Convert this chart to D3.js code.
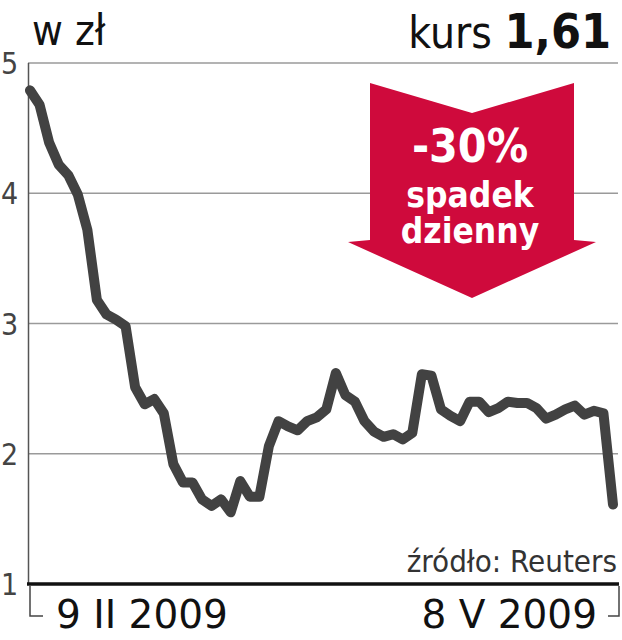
<!DOCTYPE html>
<html>
<head>
<meta charset="utf-8">
<script src="https://cdn.jsdelivr.net/npm/d3@7"></script>
<style>
  body { margin: 0; background: #fff; }
  svg { display: block; }
  .cond { font-family: "DejaVu Sans Condensed", "DejaVu Sans", sans-serif; font-stretch: condensed; }
</style>
</head>
<body>
<script>
// kurs akcji, 9 II 2009 - 8 V 2009 (sesje), w zł
var prices = [4.79, 4.68, 4.39, 4.22, 4.14, 3.99, 3.72, 3.18, 3.07, 3.03,
              2.98, 2.51, 2.38, 2.42, 2.31, 1.92, 1.78, 1.78, 1.65, 1.60,
              1.65, 1.55, 1.79, 1.67, 1.67, 2.06, 2.25, 2.21, 2.18, 2.25,
              2.28, 2.34, 2.62, 2.45, 2.40, 2.25, 2.17, 2.13, 2.15, 2.11,
              2.16, 2.61, 2.60, 2.34, 2.29, 2.25, 2.40, 2.40, 2.32, 2.35,
              2.40, 2.39, 2.39, 2.35, 2.27, 2.30, 2.34, 2.37, 2.30, 2.33,
              2.31, 1.61];
var yTicks = [1, 2, 3, 4, 5];
var dateLabels = ["9 II 2009", "8 V 2009"];
var lastPrice = "1,61";
var dropLabel = ["-30%", "spadek", "dzienny"];

var width = 622,
    height = 640;

var x = d3.scaleLinear()
    .domain([0, prices.length - 1])
    .range([30, 613]);

var y = d3.scaleLinear()
    .domain([1, 5])
    .range([584, 63]);

var svg = d3.select("body").append("svg")
    .attr("width", width)
    .attr("height", height);

// gridlines
svg.selectAll("line.grid")
    .data(yTicks.slice(1))
  .enter().append("line")
    .attr("class", "grid")
    .attr("x1", 28).attr("x2", 618)
    .attr("y1", function(d) { return y(d); })
    .attr("y2", function(d) { return y(d); })
    .attr("stroke", "#9a9a9a")
    .attr("stroke-width", 1.5);

// left axis line
svg.append("line")
    .attr("x1", 28.5).attr("x2", 28.5)
    .attr("y1", y(5)).attr("y2", y(1))
    .attr("stroke", "#555")
    .attr("stroke-width", 1.5);

// y labels
svg.selectAll("text.ylab")
    .data(yTicks)
  .enter().append("text")
    .attr("class", "ylab cond")
    .attr("x", 1)
    .attr("y", function(d) { return y(d) + 11; })
    .attr("font-size", 30)
    .attr("font-weight", 200)
    .attr("fill", "#444")
    .text(function(d) { return d; });

// red arrow with text
var ax = 472, atop = 83;
var arrow = [[ax - 102, atop], [ax, atop + 30], [ax + 102, atop], [ax + 102, atop + 157],
             [ax + 124, atop + 159], [ax, atop + 215], [ax - 124, atop + 159], [ax - 102, atop + 157]];
svg.append("path")
    .attr("d", d3.line()(arrow) + "Z")
    .attr("fill", "#cf0a3c");

svg.selectAll("text.drop")
    .data(dropLabel)
  .enter().append("text")
    .attr("class", "drop cond")
    .attr("x", ax - 2)
    .attr("y", function(d, i) { return [162, 207, 243][i]; })
    .attr("text-anchor", "middle")
    .attr("font-size", function(d, i) { return i === 0 ? 46 : 35; })
    .attr("font-weight", "bold")
    .attr("fill", "#fff")
    .text(function(d) { return d; });

// price line
var line = d3.line()
    .x(function(d, i) { return x(i); })
    .y(function(d) { return y(d); });

svg.append("path")
    .datum(prices)
    .attr("d", line)
    .attr("fill", "none")
    .attr("stroke", "#424242")
    .attr("stroke-width", 10)
    .attr("stroke-linejoin", "round")
    .attr("stroke-linecap", "round");

// bottom axis
svg.append("line")
    .attr("x1", 27).attr("x2", 619)
    .attr("y1", y(1)).attr("y2", y(1))
    .attr("stroke", "#111")
    .attr("stroke-width", 3.5);

svg.append("path")
    .attr("d", "M30,586V616H43")
    .attr("fill", "none").attr("stroke", "#444").attr("stroke-width", 1.5);
svg.append("path")
    .attr("d", "M608,616H619V586")
    .attr("fill", "none").attr("stroke", "#444").attr("stroke-width", 1.5);

svg.append("text")
    .attr("x", 56).attr("y", 628)
    .attr("font-family", "DejaVu Sans, sans-serif")
    .attr("font-size", 39)
    .attr("fill", "#111")
    .text(dateLabels[0]);
svg.append("text")
    .attr("x", 597).attr("y", 628)
    .attr("text-anchor", "end")
    .attr("font-family", "DejaVu Sans, sans-serif")
    .attr("font-size", 39)
    .attr("fill", "#111")
    .text(dateLabels[1]);

// source
svg.append("text")
    .attr("class", "cond")
    .attr("x", 617).attr("y", 572)
    .attr("text-anchor", "end")
    .attr("font-size", 31)
    .attr("font-weight", 200)
    .attr("fill", "#333")
    .text("źródło: Reuters");

// header
svg.append("text")
    .attr("class", "cond")
    .attr("x", 32).attr("y", 45)
    .attr("font-size", 42)
    .attr("fill", "#111")
    .text("w zł");

var head = svg.append("text")
    .attr("class", "cond")
    .attr("x", 611).attr("y", 48)
    .attr("text-anchor", "end")
    .attr("fill", "#111");
head.append("tspan")
    .attr("font-size", 44)
    .text("kurs ");
head.append("tspan")
    .attr("font-size", 48)
    .attr("font-weight", "bold")
    .text(lastPrice);
</script>
</body>
</html>
